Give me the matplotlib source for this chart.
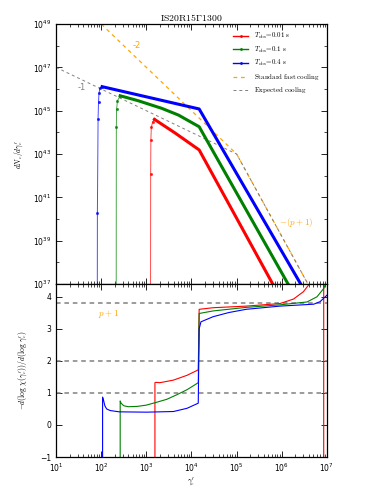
import numpy as np
import matplotlib
matplotlib.use("Agg")
import matplotlib.pyplot as plt
from matplotlib.lines import Line2D
from matplotlib.ticker import NullFormatter

plt.rcParams['mathtext.fontset'] = 'cm'
plt.rcParams['font.size'] = 5.5

# --- top panel: electron spectra (log10 gamma, log10 dN/dgamma) ---
blue_rise_lx = [1.91, 1.915, 1.93, 1.94, 1.95, 1.97, 2.02]
blue_rise_ly = [30.0, 40.28, 44.62, 45.41, 45.80, 46.03, 46.11]
blue_main_lx = [2.02, 4.17, 6.42, 6.70]
blue_main_ly = [46.11, 45.08, 37.0, 36.0]

green_rise_lx = [2.33, 2.335, 2.34, 2.36, 2.42]
green_rise_ly = [30.0, 44.23, 45.06, 45.46, 45.69]
green_main_lx = [2.42, 2.82, 3.34, 3.71, 4.17, 6.14, 6.40]
green_main_ly = [45.69, 45.46, 45.11, 44.80, 44.26, 37.0, 36.0]

red_rise_lx = [3.09, 3.095, 3.10, 3.11, 3.14, 3.18]
red_rise_ly = [30.0, 42.08, 43.65, 44.23, 44.49, 44.60]
red_main_lx = [3.18, 3.63, 4.17, 5.80, 6.10]
red_main_ly = [44.60, 43.98, 43.19, 37.0, 36.0]

fast_lx = [2.0, 5.0, 6.58, 6.85]
fast_ly = [49.0, 43.0, 37.0, 35.97]
expected_lx = [1.0, 5.0, 6.58, 6.85]
expected_ly = [47.0, 43.0, 37.0, 35.97]

# --- bottom panel: local slope ---
blue_sl_lx = [2.03, 2.03, 2.05, 2.08, 2.12, 2.2, 2.4, 3.0, 3.6, 3.9, 4.15, 4.17, 4.21,
              4.48, 4.83, 5.21, 5.96, 6.71, 6.85, 7.0]
blue_sl_y = [-1.5, 0.87, 0.78, 0.60, 0.50, 0.45, 0.41, 0.40, 0.42, 0.52, 0.68, 3.0, 3.22,
             3.38, 3.51, 3.61, 3.71, 3.77, 3.85, 4.05]

green_sl_lx = [2.42, 2.42, 2.44, 2.5, 2.6, 2.8, 3.0, 3.23, 3.45, 3.67, 3.9, 4.15, 4.17,
               4.48, 5.21, 5.96, 6.56, 6.78, 6.93, 7.0]
green_sl_y = [-1.5, 0.75, 0.68, 0.60, 0.57, 0.58, 0.62, 0.71, 0.80, 0.94, 1.10, 1.32, 3.48,
              3.56, 3.67, 3.75, 3.84, 4.0, 4.26, 4.5]

red_sl_lx = [3.19, 3.19, 3.21, 3.3, 3.6, 3.9, 4.15, 4.17, 4.48, 5.21, 5.96, 6.26, 6.48,
             6.59, 6.63, 6.65, 6.93, 6.93]
red_sl_y = [-1.5, 1.32, 1.33, 1.32, 1.40, 1.55, 1.72, 3.61, 3.66, 3.71, 3.79, 3.93, 4.16,
            4.36, 4.5, 20.0, 20.0, -20.0]

hlines_y = [1.0, 2.0, 3.8]

labels = [r'$T_{\rm obs}\!=\!0.01\ \rm s$', r'$T_{\rm obs}\!=\!0.1\ \rm s$',
          r'$T_{\rm obs}\!=\!0.4\ \rm s$']
colors = ['r', 'g', 'b']


def p10(a):
    return 10 ** np.asarray(a, dtype=float)


fig = plt.figure(figsize=(3.74, 4.98), dpi=100)
ax1 = fig.add_axes([0.150, 0.4297, 0.724, 0.522])
ax2 = fig.add_axes([0.150, 0.0823, 0.724, 0.3474], sharex=ax1)

# top
ax1.plot(p10(fast_lx), p10(fast_ly), '--', color='orange', lw=0.9, dashes=(3, 3))
ax1.plot(p10(expected_lx), p10(expected_ly), '--', color='gray', lw=0.7, dashes=(3, 3))

for rlx, rly, mlx, mly, c in [(red_rise_lx, red_rise_ly, red_main_lx, red_main_ly, 'r'),
                              (green_rise_lx, green_rise_ly, green_main_lx, green_main_ly, 'g'),
                              (blue_rise_lx, blue_rise_ly, blue_main_lx, blue_main_ly, 'b')]:
    ax1.plot(p10(rlx), p10(rly), '-', color=c, lw=0.7, marker='.', ms=2.5, alpha=0.7)
    ax1.plot(p10(mlx), p10(mly), '-', color=c, lw=2.2)

ax1.set_xscale('log')
ax1.set_yscale('log')
ax1.set_xlim(1e1, 1e7)
ax1.set_ylim(1e37, 1e49)
ax1.set_yticks([10.0 ** k for k in range(37, 50, 2)])
ax1.set_yticks([10.0 ** k for k in range(38, 49, 2)], minor=True)
ax1.yaxis.set_minor_formatter(NullFormatter())
ax1.tick_params(labelbottom=False)
ax1.set_ylabel(r"$dN_e/d\gamma_e'$", labelpad=6)
ax1.set_title(r'$\rm IS20R15\Gamma1300$', fontsize=7, pad=2)

ax1.text(10 ** 2.79, 10 ** 48.03, '-2', color='orange', fontsize=6, ha='center', va='center')
ax1.text(10 ** 1.57, 10 ** 46.08, '-1', color='gray', fontsize=6, ha='center', va='center')
ax1.text(10 ** 6.33, 10 ** 39.83, r'$-(p+1)$', color='orange', fontsize=6.5,
         ha='center', va='center')

handles = [Line2D([], [], color=c, lw=1, marker='.', ms=2, markevery=[0, 1]) for c in colors]
handles += [Line2D([], [], color='orange', lw=0.9, ls='--', dashes=(3, 3)),
            Line2D([], [], color='gray', lw=0.7, ls='--', dashes=(3, 3))]
ax1.legend(handles, labels + [r'$\rm Standard\ fast\ cooling$', r'$\rm Expected\ cooling$'],
           loc='upper right', frameon=False, fontsize=5, handlelength=2.2,
           borderaxespad=0.6, labelspacing=0.5)

# bottom
for yv in hlines_y:
    ax2.axhline(yv, color='gray', ls='--', lw=1.1, dashes=(3, 2.5))
for lx, yy, c in [(red_sl_lx, red_sl_y, 'r'), (green_sl_lx, green_sl_y, 'g'),
                  (blue_sl_lx, blue_sl_y, 'b')]:
    ax2.plot(p10(lx), yy, '-', color=c, lw=0.8)

ax2.text(10 ** 2.17, 3.46, r'$p+1$', color='orange', fontsize=6.5, ha='center', va='center')
ax2.set_ylim(-1, 4.4)
ax2.set_yticks([-1, 0, 1, 2, 3, 4])
ax2.set_xlabel(r"$\gamma_e'$", labelpad=1)
ax2.set_ylabel(r"$-d(\log\,\chi(\gamma_e'))/d(\log\,\gamma_e')$", labelpad=8)

for ax in (ax1, ax2):
    ax.tick_params(which='both', direction='in', top=True, right=True, labelsize=5.5)
    ax.tick_params(which='major', length=4, width=0.6)
    ax.tick_params(which='minor', length=2, width=0.5)
    for s in ax.spines.values():
        s.set_linewidth(0.9)

fig.savefig('out.png', dpi=100)
